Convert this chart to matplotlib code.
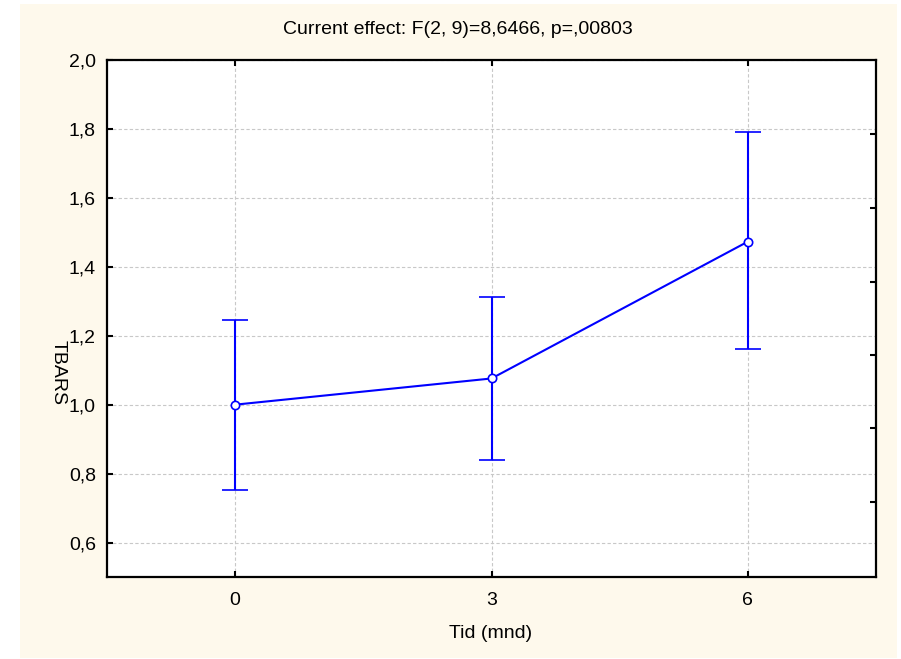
import matplotlib.pyplot as plt
from matplotlib.patches import Rectangle

# data
months = [0, 3, 6]
tbars_mean = [1.000, 1.076, 1.473]
tbars_low = [0.752, 0.839, 1.161]
tbars_high = [1.247, 1.311, 1.792]

y_ticks = [0.6, 0.8, 1.0, 1.2, 1.4, 1.6, 1.8, 2.0]
y_labels = ["0,6", "0,8", "1,0", "1,2", "1,4", "1,6", "1,8", "2,0"]
x_labels = ["0", "3", "6"]
title = "Current effect: F(2, 9)=8,6466, p=,00803"

plt.rcParams['font.family'] = ['Liberation Sans', 'DejaVu Sans']
FS = 14

W, H = 901, 659
fig = plt.figure(figsize=(W / 100, H / 100), dpi=100)
fig.patch.set_facecolor('white')

# cream panel behind everything
panel = Rectangle((20 / W, 1 - 658 / H), 877 / W, 654 / H,
                  transform=fig.transFigure, facecolor='#FEF9EC',
                  edgecolor='none', zorder=-10)
fig.add_artist(panel)

ax = fig.add_axes([107 / W, 1 - 577 / H, (876 - 107) / W, (577 - 60) / H])
ax.set_facecolor('white')

err_lo = [m - l for m, l in zip(tbars_mean, tbars_low)]
err_hi = [h - m for m, h in zip(tbars_mean, tbars_high)]
ax.errorbar(months, tbars_mean, yerr=[err_lo, err_hi], color='#0000FF',
            lw=1.5, elinewidth=1.5, capsize=9.5, capthick=1.5,
            marker='o', markersize=6, markerfacecolor='white',
            markeredgecolor='#0000FF', markeredgewidth=1.2, zorder=3)

ax.set_xlim(-1.5, 7.5)
ax.set_ylim(0.5, 2.0)
ax.set_xticks(months)
ax.set_xticklabels(x_labels)
ax.set_yticks(y_ticks)
ax.set_yticklabels(y_labels)

ax.grid(True, color='#C8C8C8', linestyle=(0, (3, 2)), lw=0.8)
ax.tick_params(direction='in', length=4, width=1.5, labelsize=FS,
               top=True, bottom=True, left=True, right=False)
ax.tick_params(axis='y', pad=8)
ax.tick_params(axis='x', pad=11)
for s in ax.spines.values():
    s.set_linewidth(1.6)
    s.set_color('black')

# right-side ticks (STATISTICA places them on its own spacing)
ax2 = ax.twinx()
ax2.set_ylim(0.5, 2.0)
ax2.set_yticks([0.718, 0.932, 1.143, 1.357, 1.572, 1.786])
ax2.tick_params(direction='in', length=4, width=1.5, labelright=False)
for s in ax2.spines.values():
    s.set_visible(False)

fig.text(458 / W, 1 - 30 / H, title, ha='center', va='center', fontsize=FS)
fig.text(491 / W, 1 - 633 / H, "Tid (mnd)", ha='center', va='center', fontsize=FS)
fig.text(58 / W, 1 - 373 / H, "TBARS", ha='center', va='center',
         rotation=-90, fontsize=FS)

fig.savefig('out.png', dpi=100)
